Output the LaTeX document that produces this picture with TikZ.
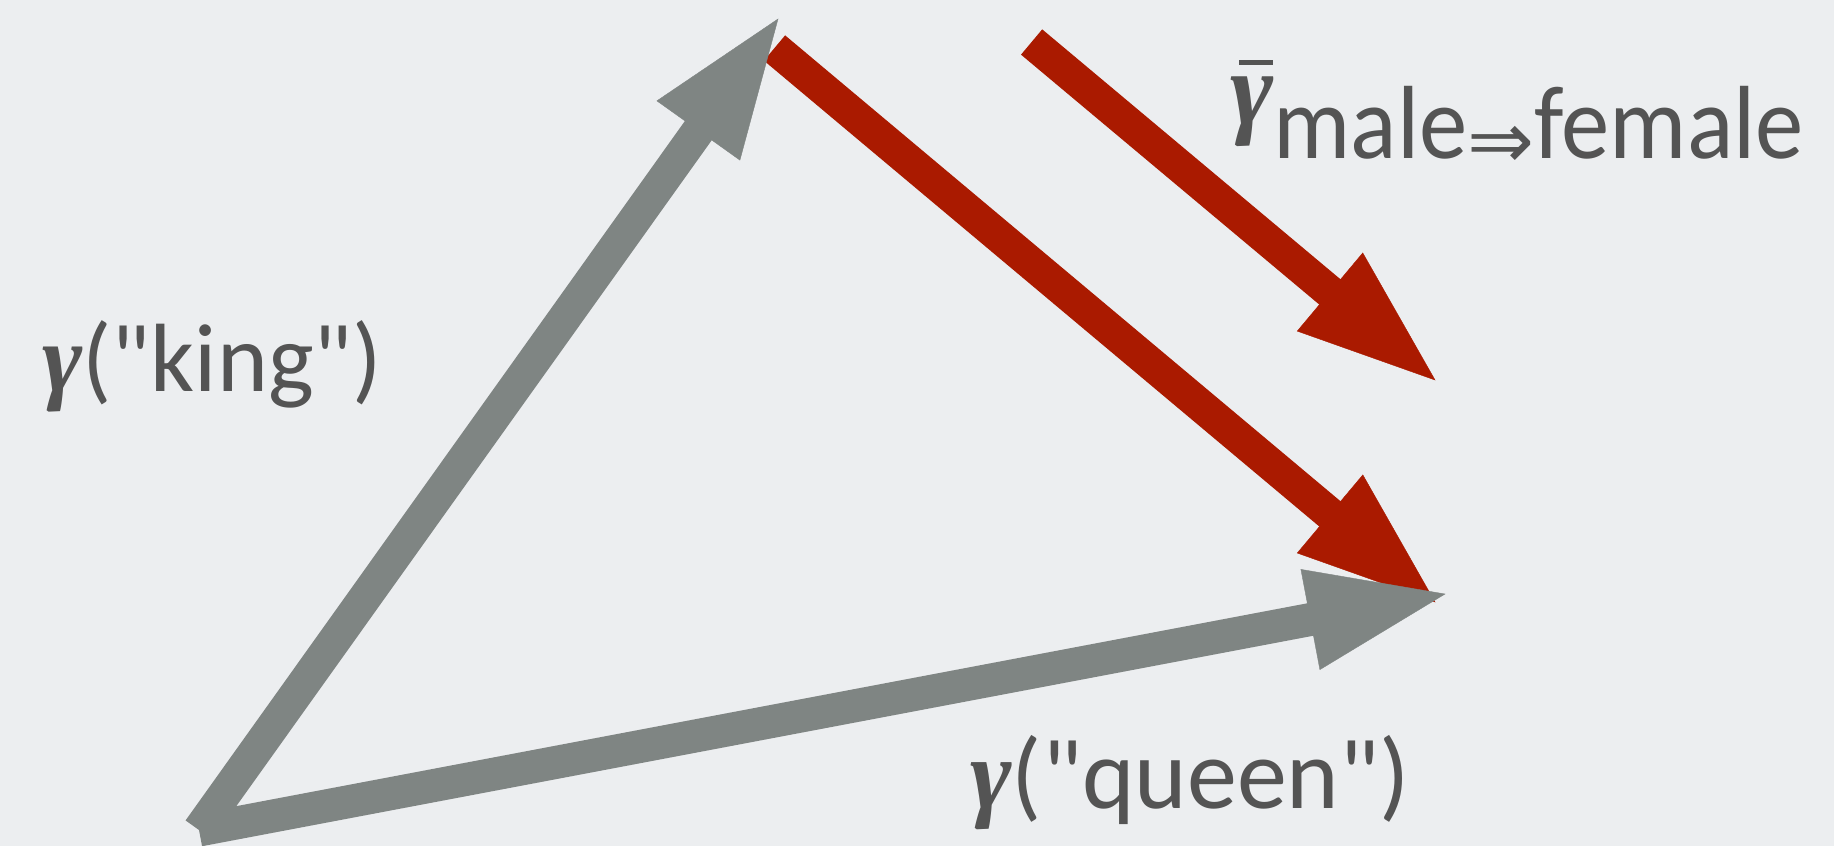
\documentclass[tikz,border=0pt]{standalone}
\usepackage{fontspec}
\usepackage{graphicx}
\newfontfamily\lblfont{Carlito}
\newfontfamily\gfont{Liberation Serif}
\newfontfamily\arrfont{DejaVu Sans}
\usetikzlibrary{calc}
\definecolor{bg}{HTML}{ECEEF0}
\definecolor{txt}{HTML}{545454}
\definecolor{grayarr}{HTML}{7F8583}
\definecolor{redarr}{HTML}{AA1A00}
\newcommand\fatarrow[3]{%
  \draw[line width=33pt, #1, shorten >=130pt] (#2) -- (#3);
  \coordinate (#3b) at ($(#3)!137pt!(#2)$);
  \fill[#1] (#3) -- ($(#3b)!51pt!90:(#3)$) -- ($(#3b)!51pt!-90:(#3)$) -- cycle;
}
\newcommand\gam{{\gfont\bfseries\itshape γ}}
\newcommand\narrow[1]{\scalebox{0.93}[1]{#1}}
\tikzset{
  lbl/.style={inner sep=0pt, text=txt, anchor=base west},
  redtone/.style={draw=redarr, fill=redarr},
  graytone/.style={draw=grayarr, fill=grayarr}
}
\begin{document}
\begin{tikzpicture}[x=1pt,y=-1pt]
\fill[bg] (0,0) rectangle (1834,846);
\useasboundingbox (0,0) rectangle (1834,846);
\coordinate (O) at (199,830);
\coordinate (K) at (778,19);
\coordinate (Q) at (1445,594);
\coordinate (Rs) at (774.5,48);
\coordinate (Re) at (1435,602);
\coordinate (Ss) at (1031.6,42);
\coordinate (Se) at (1435,380);
\fatarrow{redtone}{Ss}{Se}
\fatarrow{redtone}{Rs}{Re}
\fatarrow{graytone}{O}{K}
\fatarrow{graytone}{O}{Q}
\node[lbl, font=\lblfont\fontsize{97}{110}\selectfont] (king) at (42,391) {\gam("king")};
\node[lbl, font=\lblfont\fontsize{100}{110}\selectfont] (queen) at (970,808) {\gam("queen")};
\node[lbl, font=\lblfont\fontsize{104}{110}\selectfont] (mf) at (1230,124)
  {\makebox[0pt][l]{\hspace{9pt}\raisebox{59pt}{\rule{34pt}{5pt}}}\gam\raisebox{-34pt}{\narrow{male}\raisebox{-10pt}{\arrfont\fontsize{80}{84}\selectfont ⇒}\narrow{female}}};
\end{tikzpicture}
\end{document}
